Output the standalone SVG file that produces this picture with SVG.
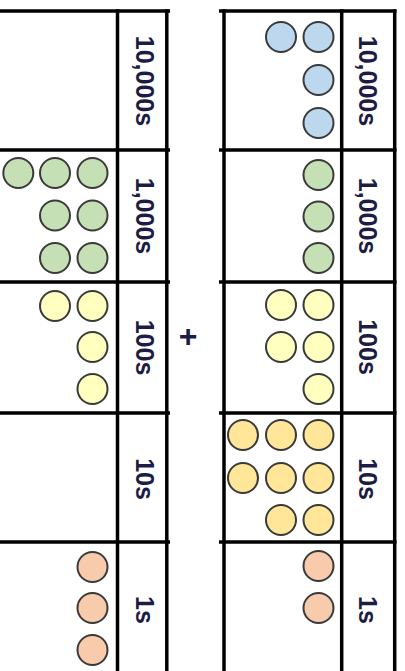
<svg xmlns="http://www.w3.org/2000/svg" width="405" height="671" viewBox="0 0 405 671">
<style>
.ln{stroke:#000;stroke-width:3.5;fill:none}
.c{stroke:#3a3a3a;stroke-width:2}
.b{fill:#BDD7EE}.g{fill:#C5E0B4}.y{fill:#FFFFC0}.o{fill:#FFE699}.p{fill:#F8CBAD}
.lbl{font-family:"Liberation Sans",Arial,sans-serif;font-size:25px;font-weight:bold;fill:#1c1c44;text-anchor:middle}
.plus{font-family:"Liberation Sans",Arial,sans-serif;font-size:32px;font-weight:bold;fill:#1c1c44;text-anchor:middle}
</style>
<rect width="405" height="671" fill="#fff"/>
<g id="left-table">
  <g id="left-grid">
    <line class="ln" x1="0" y1="11" x2="170" y2="11"/>
    <line class="ln" x1="0" y1="150" x2="170" y2="150"/>
    <line class="ln" x1="0" y1="282" x2="170" y2="282"/>
    <line class="ln" x1="0" y1="413" x2="170" y2="413"/>
    <line class="ln" x1="0" y1="542" x2="170" y2="542"/>
    <line class="ln" x1="117.5" y1="9.25" x2="117.5" y2="671"/>
    <line class="ln" x1="166.8" y1="9.25" x2="166.8" y2="671"/>
  </g>
  <g id="left-10000s">
    <text class="lbl" transform="translate(136,81) rotate(90)">10,000s</text>
  </g>
  <g id="left-1000s">
    <circle class="c g" cx="18.3" cy="173" r="15"/>
    <circle class="c g" cx="55" cy="173" r="15"/>
    <circle class="c g" cx="92.5" cy="173" r="15"/>
    <circle class="c g" cx="55" cy="215.5" r="15"/>
    <circle class="c g" cx="92.5" cy="215.5" r="15"/>
    <circle class="c g" cx="55" cy="258" r="15"/>
    <circle class="c g" cx="92.5" cy="258" r="15"/>
    <text class="lbl" transform="translate(136,216) rotate(90)">1,000s</text>
  </g>
  <g id="left-100s">
    <circle class="c y" cx="55" cy="306" r="15"/>
    <circle class="c y" cx="92.5" cy="306" r="15"/>
    <circle class="c y" cx="92.5" cy="347" r="15"/>
    <circle class="c y" cx="92.5" cy="389" r="15"/>
    <text class="lbl" transform="translate(136,347.5) rotate(90)">100s</text>
  </g>
  <g id="left-10s">
    <text class="lbl" transform="translate(136,479) rotate(90)">10s</text>
  </g>
  <g id="left-1s">
    <circle class="c p" cx="92.5" cy="567" r="15"/>
    <circle class="c p" cx="92.5" cy="608" r="15"/>
    <circle class="c p" cx="92.5" cy="650" r="15"/>
    <text class="lbl" transform="translate(136,610) rotate(90)">1s</text>
  </g>
</g>
<g id="plus-sign">
  <text class="plus" x="188" y="347">+</text>
</g>
<g id="right-table">
  <g id="right-grid">
    <line class="ln" x1="219" y1="11" x2="396.5" y2="11"/>
    <line class="ln" x1="219" y1="150" x2="396.5" y2="150"/>
    <line class="ln" x1="219" y1="282" x2="396.5" y2="282"/>
    <line class="ln" x1="219" y1="413" x2="396.5" y2="413"/>
    <line class="ln" x1="219" y1="542" x2="396.5" y2="542"/>
    <line class="ln" x1="224" y1="9.25" x2="224" y2="671"/>
    <line class="ln" x1="341.7" y1="9.25" x2="341.7" y2="671"/>
    <line class="ln" x1="394.7" y1="9.25" x2="394.7" y2="671"/>
  </g>
  <g id="right-10000s">
    <circle class="c b" cx="281" cy="37" r="15"/>
    <circle class="c b" cx="318.5" cy="37" r="15"/>
    <circle class="c b" cx="318.5" cy="80" r="15"/>
    <circle class="c b" cx="318.5" cy="123" r="15"/>
    <text class="lbl" transform="translate(359,81) rotate(90)">10,000s</text>
  </g>
  <g id="right-1000s">
    <circle class="c g" cx="318.5" cy="175" r="15"/>
    <circle class="c g" cx="318.5" cy="216.5" r="15"/>
    <circle class="c g" cx="318.5" cy="258" r="15"/>
    <text class="lbl" transform="translate(359,216) rotate(90)">1,000s</text>
  </g>
  <g id="right-100s">
    <circle class="c y" cx="281" cy="305" r="15"/>
    <circle class="c y" cx="318.5" cy="305" r="15"/>
    <circle class="c y" cx="281" cy="347" r="15"/>
    <circle class="c y" cx="318.5" cy="347" r="15"/>
    <circle class="c y" cx="318.5" cy="389" r="15"/>
    <text class="lbl" transform="translate(359,347) rotate(90)">100s</text>
  </g>
  <g id="right-10s">
    <circle class="c o" cx="243" cy="435" r="15"/>
    <circle class="c o" cx="281" cy="435" r="15"/>
    <circle class="c o" cx="318.5" cy="435" r="15"/>
    <circle class="c o" cx="243" cy="478" r="15"/>
    <circle class="c o" cx="281" cy="478" r="15"/>
    <circle class="c o" cx="318.5" cy="478" r="15"/>
    <circle class="c o" cx="281" cy="520" r="15"/>
    <circle class="c o" cx="318.5" cy="520" r="15"/>
    <text class="lbl" transform="translate(359,479) rotate(90)">10s</text>
  </g>
  <g id="right-1s">
    <circle class="c p" cx="318.5" cy="566" r="15"/>
    <circle class="c p" cx="318.5" cy="608" r="15"/>
    <text class="lbl" transform="translate(359,610) rotate(90)">1s</text>
  </g>
</g>
</svg>
